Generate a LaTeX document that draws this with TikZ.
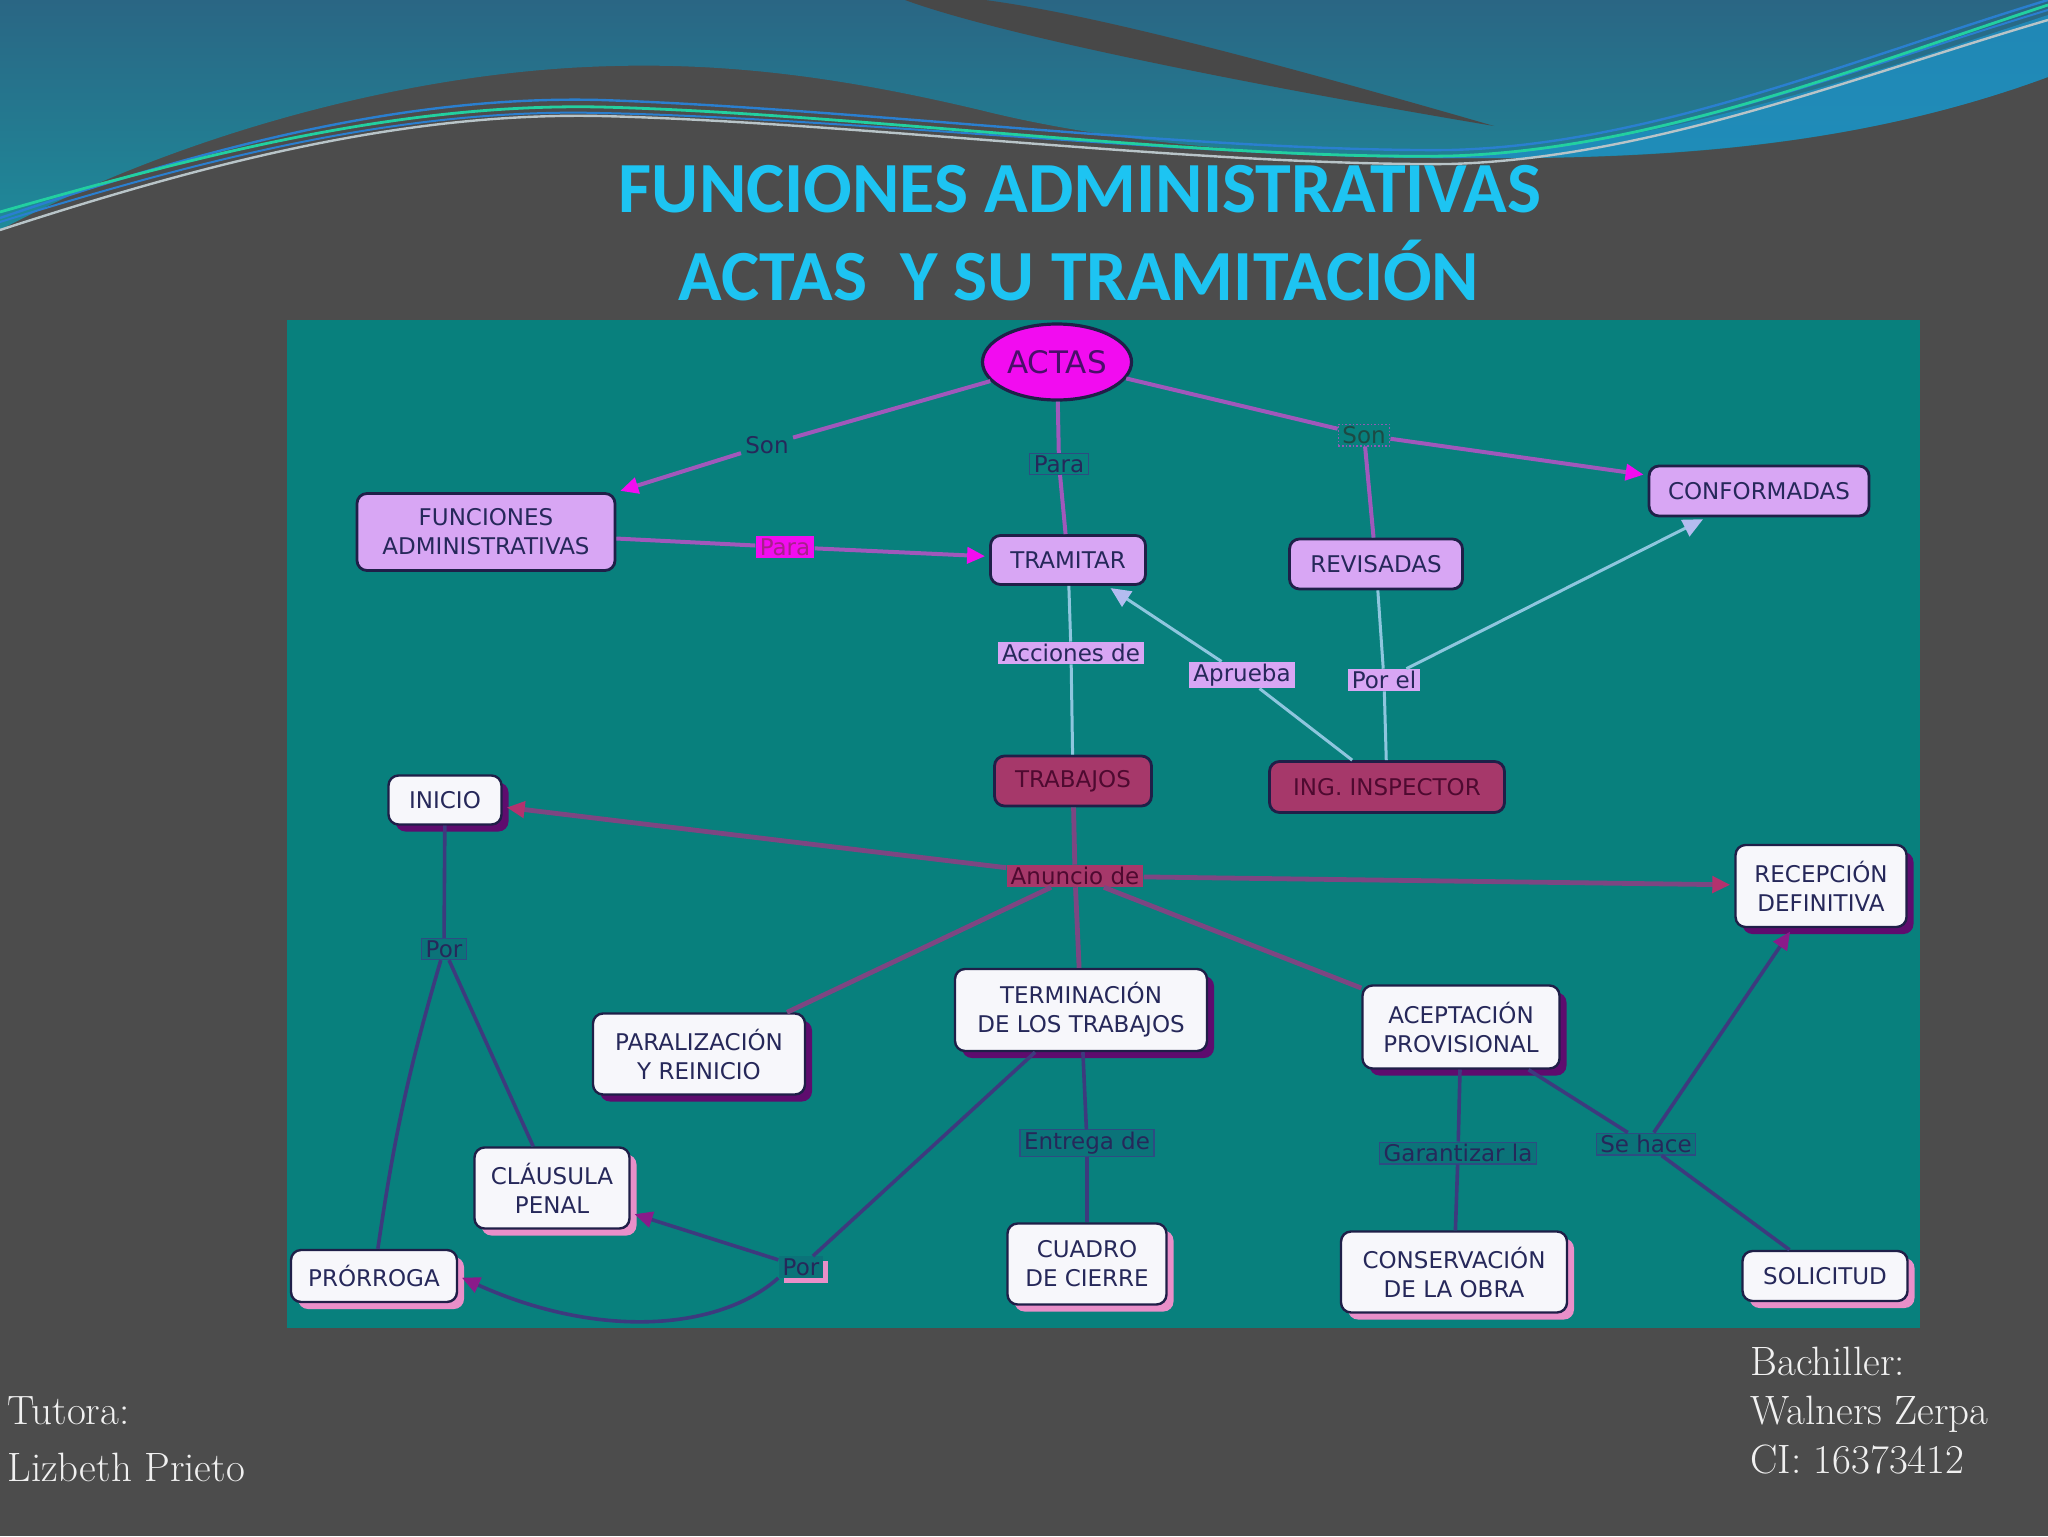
\documentclass[tikz,border=0pt]{standalone}
\usepackage{fontspec}
\newfontfamily\nodefont{DejaVu Sans}
\newfontfamily\titlefont{Carlito}
\usetikzlibrary{arrows.meta,shapes.geometric,shadows}
\definecolor{bgGray}{HTML}{4C4C4C}
\definecolor{wedgeGray}{HTML}{484848}
\definecolor{bandTop}{HTML}{2A6684}
\definecolor{bandBot}{HTML}{1E8A9A}
\definecolor{swoosh}{HTML}{1F90C2}
\definecolor{lnGreen}{HTML}{22D0A0}
\definecolor{lnBlue}{HTML}{2A7FD0}
\definecolor{lnWhite}{HTML}{B8C4C8}
\definecolor{titleBlue}{HTML}{1DC4F2}
\definecolor{panel}{HTML}{08807D}
\definecolor{cText}{HTML}{26285A}
\definecolor{cBorder}{HTML}{1F1F48}
\definecolor{cLav}{HTML}{D8A6F4}
\definecolor{cMag}{HTML}{F20CF0}
\definecolor{cMagText}{HTML}{4A0F6A}
\definecolor{cRasp}{HTML}{A6386A}
\definecolor{cRaspText}{HTML}{4E0A30}
\definecolor{cWhite}{HTML}{F7F7FB}
\definecolor{shDark}{HTML}{5E0C6E}
\definecolor{shPink}{HTML}{E98FC9}
\definecolor{lnTop}{HTML}{A058BB}
\definecolor{lnLight}{HTML}{8EC6DE}
\definecolor{lnMid}{HTML}{7D4682}
\definecolor{lnLow}{HTML}{3D3A7E}
\definecolor{tipLav}{HTML}{B4BCF0}
\definecolor{tipRasp}{HTML}{B3326E}
\definecolor{tipPur}{HTML}{8A1A8A}
\definecolor{lblBorder}{HTML}{2D4C82}
\definecolor{lblTeal}{HTML}{0B7379}
\definecolor{paraMText}{HTML}{A8208C}
\definecolor{sonText}{HTML}{1D4A44}
\definecolor{sonBorder}{HTML}{8E5AB4}
\begin{document}
\begin{tikzpicture}[x=0.5pt,y=-0.5pt,
  concept/.style={rounded corners=5pt, draw=cBorder, line width=1.4pt,
    font=\nodefont\fontsize{11.5}{14.5}\selectfont, text=cText, align=center, inner sep=0pt},
  lav/.style={concept, fill=cLav},
  rasp/.style={concept, fill=cRasp, text=cRaspText},
  wbox/.style={concept, fill=cWhite, line width=1.2pt},
  shdark/.style={drop shadow={shadow xshift=3.5pt, shadow yshift=-3.5pt, fill=shDark, opacity=1}},
  shpink/.style={drop shadow={shadow xshift=3.5pt, shadow yshift=-3.5pt, fill=shPink, opacity=1}},
  lbl/.style={font=\nodefont\fontsize{11.5}{13}\selectfont, text=cText, inner xsep=2pt, inner ysep=1pt},
  lbllav/.style={lbl, fill=cLav},
  lblteal/.style={lbl, fill=lblTeal, draw=lblBorder, line width=0.6pt},
  ltop/.style={draw=lnTop, line width=2pt},
  llight/.style={draw=lnLight, line width=1.5pt},
  lmid/.style={draw=lnMid, line width=2.4pt},
  llow/.style={draw=lnLow, line width=1.8pt},
  tipmag/.style={-{Triangle[length=9pt,width=8pt,color=cMag]}, shorten >=2pt},
  tiplav/.style={-{Triangle[length=10pt,width=9pt,color=tipLav]}, shorten >=2pt},
  tiprasp/.style={-{Triangle[length=9pt,width=8pt,color=tipRasp]}, shorten >=2pt},
  tippur/.style={-{Triangle[length=9pt,width=8pt,color=tipPur]}, shorten >=2pt}
]
\useasboundingbox (0,0) rectangle (2048,1536);
% ---------- background ----------
\fill[bgGray] (0,0) rectangle (2048,1536);
\shade[top color=bandTop, bottom color=bandBot]
  (0,0) -- (2048,0) -- (2048,77)
  .. controls (1850,150) and (1650,160) .. (1450,158)
  .. controls (1250,156) and (1100,140) .. (980,110)
  .. controls (820,72) and (700,60) .. (568,68)
  .. controls (380,80) and (170,140) .. (0,230) -- cycle;
\fill[wedgeGray] (905,0) .. controls (1000,35) and (1250,85) .. (1494,126)
  .. controls (1300,70) and (1100,15) .. (985,0) -- cycle;
\fill[swoosh, opacity=0.8] (1430,158) .. controls (1650,150) and (1850,80) .. (2048,15)
  -- (2048,77) .. controls (1850,150) and (1650,160) .. (1430,158) -- cycle;
\draw[lnBlue, line width=1.2pt] (0,218) .. controls (200,150) and (400,95) .. (600,100)
  .. controls (850,108) and (1200,152) .. (1450,150) .. controls (1650,145) and (1850,60) .. (2048,0);
\draw[lnBlue, line width=1pt] (0,222) .. controls (200,160) and (400,108) .. (600,113)
  .. controls (850,118) and (1200,158) .. (1450,157) .. controls (1650,150) and (1850,70) .. (2048,10);
\draw[lnWhite, line width=1.2pt] (0,230) .. controls (200,165) and (400,112) .. (600,116)
  .. controls (850,122) and (1200,166) .. (1450,164) .. controls (1650,158) and (1850,78) .. (2048,20);
\draw[lnGreen, line width=1.4pt] (0,212) .. controls (200,155) and (400,103) .. (600,107)
  .. controls (850,113) and (1200,160) .. (1450,156) .. controls (1650,150) and (1850,70) .. (2048,5);
% ---------- title ----------
\node[anchor=base, inner sep=0pt, text=titleBlue, font=\titlefont\bfseries\fontsize{36}{40}\selectfont] (t1) at (1080,212) {FUNCIONES ADMINISTRATIVAS};
\node[anchor=base, inner sep=0pt, text=titleBlue, font=\titlefont\bfseries\fontsize{36}{40}\selectfont] (t2) at (1079,300) {ACTAS~~Y SU TRAMITACIÓN};
% ---------- panel ----------
\fill[panel] (287,320) rectangle (1920,1328);
% ---------- concepts ----------
\node[ellipse, draw=cBorder, line width=1.6pt, fill=cMag, text=cMagText, inner sep=0pt,
  minimum width=74.5pt, minimum height=38pt, font=\nodefont\fontsize{15.5}{18}\selectfont] (actas) at (1057,362) {ACTAS};
\node[lav, minimum width=129pt, minimum height=38.5pt] (func) at (486,532) {FUNCIONES\\ADMINISTRATIVAS};
\node[lav, minimum width=77.5pt, minimum height=24.5pt] (tram) at (1068,560) {TRAMITAR};
\node[lav, minimum width=86.5pt, minimum height=25pt] (rev) at (1376,564) {REVISADAS};
\node[lav, minimum width=110pt, minimum height=25pt] (conf) at (1759,491) {CONFORMADAS};
\node[rasp, minimum width=78.5pt, minimum height=25pt] (trab) at (1073,781) {TRABAJOS};
\node[rasp, minimum width=117.5pt, minimum height=25.5pt] (insp) at (1387,787) {ING. INSPECTOR};
\node[wbox, shdark, minimum width=56.5pt, minimum height=24.5pt] (inicio) at (445,800) {INICIO};
\node[wbox, shdark, minimum width=85.5pt, minimum height=41pt] (recep) at (1821,886) {RECEPCIÓN\\DEFINITIVA};
\node[wbox, shdark, minimum width=106pt, minimum height=40.5pt] (paral) at (699,1054) {PARALIZACIÓN\\Y REINICIO};
\node[wbox, shdark, minimum width=126pt, minimum height=41pt] (term) at (1081,1010) {TERMINACIÓN\\DE LOS TRABAJOS};
\node[wbox, shdark, minimum width=98.5pt, minimum height=41.5pt] (acept) at (1461,1027) {ACEPTACIÓN\\PROVISIONAL};
\node[wbox, shpink, minimum width=77.5pt, minimum height=40.5pt] (claus) at (552,1188) {CLÁUSULA\\PENAL};
\node[wbox, shpink, minimum width=83pt, minimum height=26pt] (pror) at (374,1276) {PRÓRROGA};
\node[wbox, shpink, minimum width=79.5pt, minimum height=40.5pt] (cuadro) at (1087,1264) {CUADRO\\DE CIERRE};
\node[wbox, shpink, minimum width=113pt, minimum height=40.5pt] (cons) at (1454,1272) {CONSERVACIÓN\\DE LA OBRA};
\node[wbox, shpink, minimum width=82.5pt, minimum height=25pt] (solic) at (1825,1276) {SOLICITUD};
% ---------- linking phrases ----------
\node[lbl] (sonL) at (767,445) {Son};
\node[lbl, draw=lblBorder, line width=0.5pt] (paraT) at (1059,464) {Para};
\node[lbl, text=sonText, draw=sonBorder, densely dotted, line width=0.8pt] (sonR) at (1364,435) {Son};
\node[lbl, fill=cMag, text=paraMText] (paraM) at (785,547) {Para};
\node[lbllav] (acc) at (1071,653) {Acciones de};
\node[lbllav] (apr) at (1242,675) {Aprueba};
\node[lbllav] (porel) at (1384,680) {Por el};
\node[lbl, fill=cRasp, text=cRaspText] (anun) at (1075,876) {Anuncio de};
\node[lblteal] (porL) at (444,949) {Por};
\node[lblteal] (entrega) at (1087,1143) {Entrega de};
\node[lblteal] (garant) at (1458,1153) {Garantizar la};
\node[lblteal] (sehace) at (1646,1144) {Se hace};
\node[lbl, fill=lblTeal, drop shadow={shadow xshift=2.5pt, shadow yshift=-2.5pt, fill=shPink, opacity=1}] (porB) at (801,1267) {Por};
% ---------- connectors ----------
\draw[ltop] (actas) -- (sonL);
\draw[ltop, tipmag] (sonL) -- (func.north east);
\draw[ltop] (actas) -- (paraT);
\draw[ltop] (paraT) -- (tram);
\draw[ltop] (actas) -- (sonR);
\draw[ltop, tipmag] (sonR) -- (conf);
\draw[ltop] (sonR) -- (rev);
\draw[ltop] (func) -- (paraM);
\draw[ltop, tipmag] (paraM) -- (tram);
\draw[llight] (tram) -- (acc);
\draw[llight] (acc) -- (trab);
\draw[llight] (insp) -- (apr);
\draw[llight, tiplav] (apr) -- (tram);
\draw[llight] (insp) -- (porel);
\draw[llight] (porel) -- (rev);
\draw[llight, tiplav] (porel) -- (conf);
\draw[lmid] (trab) -- (anun);
\draw[lmid, tiprasp] (anun) -- (inicio);
\draw[lmid, tiprasp] (anun) -- (recep);
\draw[lmid] (anun) -- (paral);
\draw[lmid] (anun) -- (term);
\draw[lmid] (anun) -- (acept);
\draw[llow] (inicio) -- (porL);
\draw[llow] (porL) -- (claus);
\draw[llow] (porL) to[bend right=4] (pror);
\draw[llow] (term) -- (porB);
\draw[llow, tippur] (porB) -- (claus);
\draw[llow, tippur] (porB.south west) .. controls (720,1330) and (600,1340) .. (pror.east);
\draw[llow] (term) -- (entrega);
\draw[llow] (entrega) -- (cuadro);
\draw[llow] (acept) -- (garant);
\draw[llow] (garant) -- (cons);
\draw[llow] (acept) -- (sehace);
\draw[llow, tippur] (sehace) -- (recep);
\draw[llow] (sehace) -- (solic);
% ---------- footer ----------
\node[anchor=north west, inner sep=0pt, align=left, text=white!94!black, font=\fontsize{20.5}{28.5}\selectfont] (tutora) at (7,1396) {Tutora:\\Lizbeth Prieto};
\node[anchor=north west, inner sep=0pt, align=left, text=white!94!black, font=\fontsize{20.5}{24.3}\selectfont] (bach) at (1750,1347) {Bachiller:\\Walners Zerpa\\CI: 16373412};
\end{tikzpicture}
\end{document}
